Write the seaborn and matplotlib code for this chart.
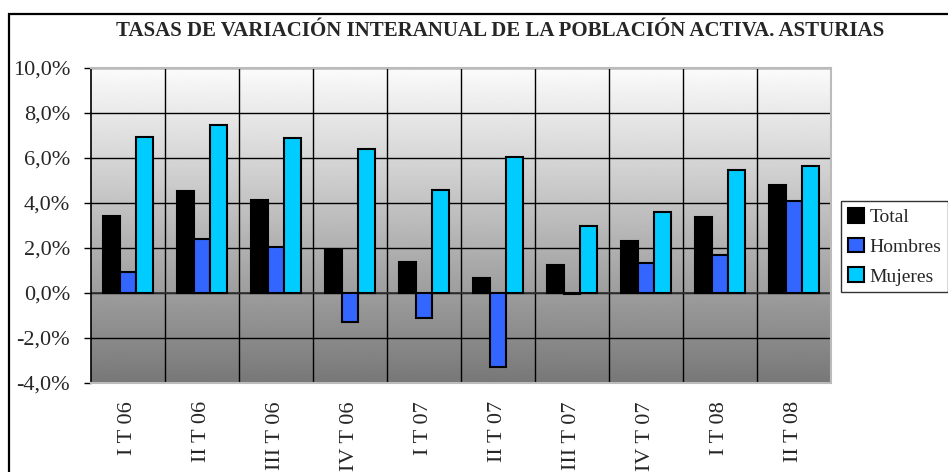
import numpy as np
import pandas as pd
import matplotlib
matplotlib.use("Agg")
import matplotlib.pyplot as plt
import seaborn as sns
from matplotlib.patches import Rectangle

categories = ["I T 06", "II T 06", "III T 06", "IV T 06", "I T 07",
              "II T 07", "III T 07", "IV T 07", "I T 08", "II T 08"]
total = [3.43, 4.52, 4.13, 1.91, 1.36, 0.65, 1.26, 2.31, 3.38, 4.80]
hombres = [0.92, 2.39, 2.06, -1.30, -1.10, -3.27, -0.05, 1.32, 1.69, 4.10]
mujeres = [6.92, 7.47, 6.87, 6.39, 4.60, 6.03, 2.99, 3.60, 5.45, 5.64]
series = ["Total", "Hombres", "Mujeres"]
colors = ["#000000", "#3366FF", "#00CCFF"]
yticks = [-4, -2, 0, 2, 4, 6, 8, 10]
title = "TASAS DE VARIACIÓN INTERANUAL DE LA POBLACIÓN ACTIVA. ASTURIAS"

df = pd.DataFrame({
    "cat": categories * 3,
    "serie": [s for s in series for _ in categories],
    "valor": total + hombres + mujeres,
})

sns.set_theme(style="white")
plt.rcParams["font.family"] = ["Liberation Serif", "DejaVu Serif"]

fig = plt.figure(figsize=(9.48, 4.72), dpi=100)
W, H = 948, 472
ax = fig.add_axes([91 / W, 1 - 383 / H, (831 - 91) / W, (383 - 68) / H])

# figure frame
fig.patches.append(Rectangle((9 / W, -0.01), 1.0, 1 - 13.5 / H + 0.01,
                             transform=fig.transFigure, fill=False,
                             edgecolor="black", linewidth=1.6, zorder=0))

# gradient background
grad = np.linspace(0.47, 0.985, 256).reshape(-1, 1)
ax.imshow(grad, cmap="gray", vmin=0, vmax=1, aspect="auto",
          extent=(-0.5, len(categories) - 0.5, -4, 10), origin="lower", zorder=0)

sns.barplot(data=df, x="cat", y="valor", hue="serie", hue_order=series,
            palette=colors, width=0.68, edgecolor="black", linewidth=1.5,
            ax=ax, zorder=3, saturation=1)

ax.set_xlim(-0.5, len(categories) - 0.5)
ax.set_ylim(-4, 10)
ax.set_yticks(yticks)
ax.set_yticklabels([f"{v:.1f}%".replace(".", ",") for v in yticks], fontsize=16)
ax.set_xlabel("")
ax.set_ylabel("")

# grid lines
for v in yticks:
    ax.axhline(v, color="black", linewidth=1.0, zorder=1)
for b in np.arange(0.5, len(categories) - 0.5, 1):
    ax.axvline(b, color="black", linewidth=1.0, zorder=1)
ax.axhline(0, color="#333333", linewidth=1.2, zorder=2)

ax.tick_params(axis="y", direction="out", length=5, width=1, color="black",
               left=True, pad=10)
ax.tick_params(axis="x", length=0, pad=13)
ax.set_xticks(range(len(categories)))
ax.set_xticklabels(categories, rotation=90, fontsize=16, va="top")

for s in ["top", "right", "bottom"]:
    ax.spines[s].set_color("#bbbbbb")
    ax.spines[s].set_linewidth(1.5)
ax.spines["left"].set_color("black")
ax.spines["left"].set_linewidth(1.2)

leg = ax.legend(loc="center left", bbox_to_anchor=(1.014, 0.433), fontsize=14,
                frameon=True, fancybox=False, edgecolor="black",
                handlelength=0.8, handleheight=0.8, handletextpad=0.3,
                borderpad=0.35, labelspacing=0.6, borderaxespad=0)
leg.get_frame().set_linewidth(1.0)
for h in leg.legend_handles:
    h.set_linewidth(1.5)

fig.text(500 / W, 1 - 31 / H, title, ha="center", va="center",
         fontsize=15, fontweight="bold")

fig.savefig("out.png", dpi=100)
